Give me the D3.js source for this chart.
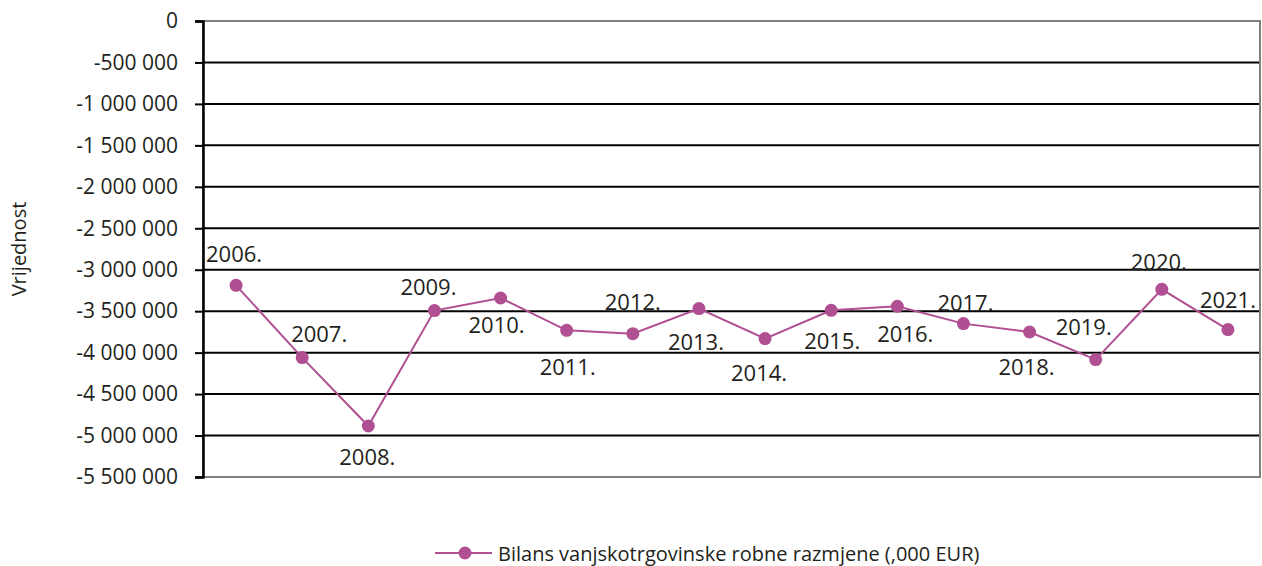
<!DOCTYPE html>
<html>
<head>
<meta charset="utf-8">
<script src="https://cdn.jsdelivr.net/npm/d3@7"></script>
<style>
  body { margin: 0; background: #fff; }
  text { font-family: "Open Sans", sans-serif; fill: #231f20; }
</style>
</head>
<body>
<div id="chart"></div>
<script>
// trade balance line chart, one point per year

const years = ["2006.", "2007.", "2008.", "2009.", "2010.", "2011.", "2012.", "2013.",
               "2014.", "2015.", "2016.", "2017.", "2018.", "2019.", "2020.", "2021."];
const balance = [-3188000, -4060000, -4885000, -3493000, -3341000, -3731000, -3771000, -3469000,
                 -3831000, -3490000, -3441000, -3650000, -3751000, -4084000, -3236000, -3722000];
const yTicks = [0, -500000, -1000000, -1500000, -2000000, -2500000, -3000000, -3500000,
                -4000000, -4500000, -5000000, -5500000];
const seriesName = "Bilans vanjskotrgovinske robne razmjene (,000 EUR)";
const axisTitle = "Vrijednost";

// label offsets (dx, dy) from the point, as placed in the original
const labelOffsets = [[-2, -32], [17, -25], [-1, 30], [-6, -25], [-4, 26], [1, 36], [0, -33], [-3, 32],
                      [-6, 33], [1, 30], [8, 27], [2, -22], [-3, 34], [-12, -34], [-3, -28], [0, -31]];

const width = 1262, height = 566;
const margin = {top: 21, right: 1, bottom: 89, left: 203};
const purple = "#b04f91";

const svg = d3.select("#chart").append("svg")
    .attr("width", width)
    .attr("height", height);

const x = d3.scaleBand()
    .domain(years)
    .range([margin.left, width - margin.right]);

const y = d3.scaleLinear()
    .domain([0, -5500000])
    .range([margin.top, height - margin.bottom]);

const fmt = v => v === 0 ? "0" : "-" + d3.format(",")(Math.abs(v)).replace(/,/g, " ");

// gridlines
svg.append("g")
    .selectAll("line")
    .data(yTicks.slice(1, -1))
    .enter().append("line")
    .attr("x1", margin.left)
    .attr("x2", width - margin.right)
    .attr("y1", d => y(d))
    .attr("y2", d => y(d))
    .attr("stroke", "#000")
    .attr("stroke-width", 2);

// plot border
svg.append("rect")
    .attr("x", margin.left)
    .attr("y", y(0))
    .attr("width", width - margin.right - margin.left - 1)
    .attr("height", y(-5500000) - y(0))
    .attr("fill", "none")
    .attr("stroke", "#808080")
    .attr("stroke-width", 2);

// y axis
const yAxis = svg.append("g")
    .attr("transform", `translate(${margin.left},0)`)
    .call(d3.axisLeft(y).tickValues(yTicks).tickFormat(fmt).tickSize(8).tickPadding(17));
yAxis.select(".domain").attr("stroke", "#000").attr("stroke-width", 2.5);
yAxis.selectAll(".tick line").attr("stroke", "#000").attr("stroke-width", 2);
yAxis.selectAll(".tick text")
    .style("font-family", "Open Sans, sans-serif")
    .style("font-size", "21px")
    .attr("fill", "#231f20");

svg.append("text")
    .attr("transform", `translate(26,${(y(0) + y(-5500000)) / 2}) rotate(-90)`)
    .attr("text-anchor", "middle")
    .style("font-size", "20px")
    .text(axisTitle);

// series
const cx = (d, i) => x(years[i]) + x.bandwidth() / 2;
const line = d3.line()
    .x((d, i) => cx(d, i))
    .y(d => y(d));

svg.append("path")
    .datum(balance)
    .attr("d", line)
    .attr("fill", "none")
    .attr("stroke", purple)
    .attr("stroke-width", 2);

svg.selectAll(".pt")
    .data(balance)
    .enter().append("circle")
    .attr("class", "pt")
    .attr("cx", (d, i) => cx(d, i))
    .attr("cy", d => y(d))
    .attr("r", 6.5)
    .attr("fill", purple);

svg.selectAll(".lbl")
    .data(balance)
    .enter().append("text")
    .attr("class", "lbl")
    .attr("x", (d, i) => cx(d, i) + labelOffsets[i][0])
    .attr("y", (d, i) => y(d) + labelOffsets[i][1])
    .attr("text-anchor", "middle")
    .attr("dominant-baseline", "central")
    .style("font-size", "22px")
    .text((d, i) => years[i]);

// legend
const legend = svg.append("g").attr("transform", "translate(435,553)");
legend.append("line")
    .attr("x1", 0).attr("x2", 57)
    .attr("y1", 0).attr("y2", 0)
    .attr("stroke", purple)
    .attr("stroke-width", 2);
legend.append("circle")
    .attr("cx", 30).attr("cy", 0).attr("r", 6.5)
    .attr("fill", purple);
legend.append("text")
    .attr("x", 63).attr("y", 0)
    .attr("dominant-baseline", "central")
    .style("font-size", "20px")
    .text(seriesName);
</script>
</body>
</html>
